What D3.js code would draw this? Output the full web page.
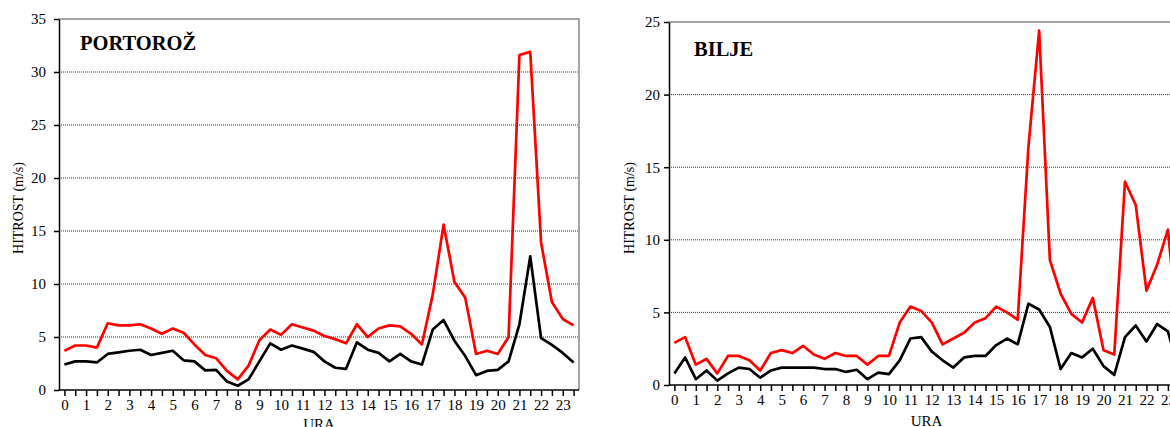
<!DOCTYPE html>
<html>
<head>
<meta charset="utf-8">
<script src="https://cdn.jsdelivr.net/npm/d3@7"></script>
<style>
  body { margin: 0; background: #fff; }
  svg { display: block; }
  svg text { font-family: "Liberation Serif", "Times New Roman", serif; }
</style>
</head>
<body>
<div id="chart"></div>
<script>
// half-hour slots (categories on the x axis)
const slots = [0, 0.5, 1, 1.5, 2, 2.5, 3, 3.5, 4, 4.5, 5, 5.5, 6, 6.5, 7, 7.5,
               8, 8.5, 9, 9.5, 10, 10.5, 11, 11.5, 12, 12.5, 13, 13.5, 14, 14.5, 15, 15.5,
               16, 16.5, 17, 17.5, 18, 18.5, 19, 19.5, 20, 20.5, 21, 21.5, 22, 22.5, 23, 23.5];

// Portorož (m/s)
const portorozRed = [3.7, 4.2, 4.2, 4.0, 6.3, 6.1, 6.1, 6.2, 5.8, 5.3, 5.8, 5.4, 4.3, 3.3, 3.0, 1.8,
                     1.0, 2.3, 4.7, 5.7, 5.2, 6.2, 5.9, 5.6, 5.1, 4.8, 4.4, 6.2, 5.0, 5.8, 6.1, 6.0,
                     5.3, 4.3, 9.0, 15.6, 10.2, 8.7, 3.4, 3.7, 3.4, 5.0, 31.6, 31.9, 13.9, 8.3, 6.7, 6.1];
const portorozBlack = [2.4, 2.7, 2.7, 2.6, 3.4, 3.55, 3.7, 3.8, 3.3, 3.5, 3.7, 2.8, 2.7, 1.85, 1.9, 0.8,
                       0.4, 1.0, 2.7, 4.4, 3.8, 4.2, 3.9, 3.6, 2.7, 2.1, 2.0, 4.5, 3.8, 3.5, 2.7, 3.4,
                       2.7, 2.4, 5.7, 6.6, 4.65, 3.2, 1.4, 1.8, 1.9, 2.7, 6.2, 12.6, 4.9, 4.25, 3.5, 2.6];

// Bilje (m/s)
const biljeRed = [2.9, 3.3, 1.4, 1.8, 0.8, 2.0, 2.0, 1.7, 1.0, 2.2, 2.4, 2.2, 2.7, 2.1, 1.8, 2.2,
                  2.0, 2.0, 1.4, 2.0, 2.0, 4.3, 5.4, 5.1, 4.3, 2.8, 3.2, 3.6, 4.3, 4.6, 5.4, 5.0,
                  4.5, 16.4, 24.4, 8.6, 6.3, 4.9, 4.3, 6.0, 2.4, 2.1, 14.0, 12.4, 6.5, 8.3, 10.7, 3.0];
const biljeBlack = [0.8, 1.9, 0.4, 1.0, 0.3, 0.8, 1.2, 1.1, 0.5, 1.0, 1.2, 1.2, 1.2, 1.2, 1.1, 1.1,
                    0.9, 1.05, 0.4, 0.85, 0.75, 1.7, 3.2, 3.3, 2.3, 1.7, 1.2, 1.9, 2.0, 2.0, 2.75, 3.2,
                    2.8, 5.6, 5.2, 4.0, 1.1, 2.2, 1.9, 2.5, 1.3, 0.7, 3.3, 4.1, 3.0, 4.2, 3.7, 1.0];

const portorozTicks = [0, 5, 10, 15, 20, 25, 30, 35];
const biljeTicks = [0, 5, 10, 15, 20, 25];

const svg = d3.select("#chart")
  .append("svg")
    .attr("width", 1170)
    .attr("height", 427);

function drawPanel(p) {
  const g = svg.append("g");

  const x = d3.scalePoint()
    .domain(slots)
    .range([p.left, p.right])
    .padding(0.5);

  const yMax = d3.max(p.yTicks);
  const y = d3.scaleLinear()
    .domain([0, yMax])
    .range([p.bottom, p.top]);

  // dotted gridlines
  g.append("g")
    .selectAll("line")
    .data(p.yTicks.filter(d => d > 0 && d < yMax))
    .join("line")
      .attr("x1", p.left)
      .attr("x2", p.right)
      .attr("y1", d => y(d))
      .attr("y2", d => y(d))
      .attr("stroke", "#333")
      .attr("stroke-width", 1)
      .attr("stroke-dasharray", "1,1");

  // grey frame top and right
  g.append("path")
    .attr("d", `M${p.left},${y(yMax)}H${p.right}V${y(0)}`)
    .attr("fill", "none")
    .attr("stroke", "#888")
    .attr("stroke-width", 1.5);

  // X axis
  const xAxis = g.append("g")
    .attr("transform", `translate(0,${p.bottom})`)
    .call(d3.axisBottom(x)
      .tickSize(6)
      .tickSizeOuter(0)
      .tickPadding(3.5)
      .tickFormat(d => Number.isInteger(d) ? d : ""));
  xAxis.select(".domain").attr("d", `M${p.left},0H${p.right}`);

  // Y axis
  const yAxis = g.append("g")
    .attr("transform", `translate(${p.left},0)`)
    .call(d3.axisLeft(y)
      .tickValues(p.yTicks)
      .tickSize(5)
      .tickSizeOuter(0)
      .tickPadding(p.yPad));

  xAxis.attr("font-family", null).attr("font-size", null);
  yAxis.attr("font-family", null).attr("font-size", null);

  g.selectAll(".tick text")
    .style("font-size", "15px")
    .style("fill", "#000");
  g.selectAll(".domain, .tick line")
    .attr("stroke", "#000")
    .attr("stroke-width", 1.5);

  // axis titles
  g.append("text")
    .attr("text-anchor", "middle")
    .attr("transform", `translate(${p.yTitleX},${p.yTitleY}) rotate(-90)`)
    .style("font-size", "14px")
    .text("HITROST (m/s)");

  g.append("text")
    .attr("text-anchor", "middle")
    .attr("x", (p.left + p.right) / 2)
    .attr("y", p.xTitleY)
    .style("font-size", "15px")
    .text("URA");

  // station name
  g.append("text")
    .attr("x", p.nameX)
    .attr("y", p.nameY)
    .style("font-size", "20.5px")
    .style("font-weight", "bold")
    .text(p.name);

  const line = d3.line()
    .x((d, i) => x(slots[i]))
    .y(d => y(d));

  g.append("path")
    .datum(p.red)
    .attr("fill", "none")
    .attr("stroke", "#ff0000")
    .attr("stroke-width", 2.7)
    .attr("stroke-linejoin", "round")
    .attr("d", line);

  g.append("path")
    .datum(p.black)
    .attr("fill", "none")
    .attr("stroke", "#000")
    .attr("stroke-width", 2.7)
    .attr("stroke-linejoin", "round")
    .attr("d", line);
}

drawPanel({
  name: "PORTOROŽ", red: portorozRed, black: portorozBlack, yTicks: portorozTicks,
  left: 59, right: 579, top: 19, bottom: 390, yPad: 8,
  nameX: 80, nameY: 50, yTitleX: 23, yTitleY: 208, xTitleY: 429
});

drawPanel({
  name: "BILJE", red: biljeRed, black: biljeBlack, yTicks: biljeTicks,
  left: 669, right: 1184, top: 22, bottom: 385, yPad: 4,
  nameX: 694, nameY: 56, yTitleX: 634, yTitleY: 208, xTitleY: 426
});
</script>
</body>
</html>
